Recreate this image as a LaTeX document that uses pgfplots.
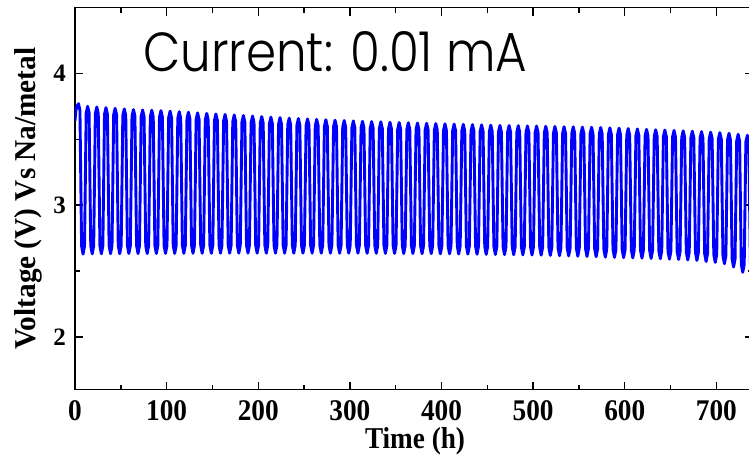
\documentclass[border=0pt]{standalone}
\usepackage{fontspec}
\setmainfont{Liberation Serif}
\newfontfamily\gothic{Poppins}[UprightFont=*-Light]
\usepackage{graphicx}
\usepackage{pgfplots}
\pgfplotsset{compat=1.18}
\begin{document}
\begin{tikzpicture}
\begin{axis}[
  scale only axis,
  width=678pt, height=382pt,
  xmin=0, xmax=740, ymin=1.6, ymax=4.5,
  xtick={0,100,...,700}, ytick={2,3,4},
  minor x tick num=1, minor y tick num=1,
  tick align=inside,
  major tick length=8pt, minor tick length=5pt,
  every tick/.style={black, line width=1.4pt},
  axis line style={line width=1.6pt},
  /pgf/number format/assume math mode=true,
  xticklabel={\scalebox{0.91}[1]{\pgfmathprintnumber{\tick}}},
  xticklabel style={font=\fontsize{30}{36}\selectfont\bfseries, anchor=base, yshift=-31pt},
  yticklabel style={font=\fontsize{25}{30}\selectfont\bfseries, anchor=east, inner sep=0pt, xshift=-9pt},
  xlabel={\resizebox{100pt}{21pt}{Time (h)}},
  xlabel style={font=\bfseries, at={(axis description cs:0.5015,0)}, anchor=base, yshift=-58.5pt},
  ylabel={\resizebox{302pt}{21pt}{Voltage (V) Vs Na/metal}},
  ylabel style={font=\bfseries, at={(axis description cs:-0.058,0.5)}, anchor=base},
]
\addplot[color={rgb,255:red,0;green,0;blue,255}, line width=2.9pt, line join=round] coordinates {
(0,3.64)(1.0,3.72)(2.2,3.75)(3.8,3.77)(5.4,3.72)(6.3,3.20)(7.2,2.688)(8.8,2.628)
(10.4,2.688)(11.3,3.19)(12.2,3.70)(13.8,3.75)(15.4,3.70)(16.3,3.19)(17.2,2.69)(18.8,2.63)
(20.4,2.69)(21.3,3.188)(22.2,3.695)(23.8,3.745)(25.4,3.695)(26.3,3.188)(27.2,2.69)(28.8,2.63)
(30.4,2.69)(31.3,3.185)(32.2,3.69)(33.8,3.74)(35.4,3.69)(36.3,3.186)(37.2,2.691)(38.8,2.631)
(40.4,2.691)(41.3,3.183)(42.2,3.685)(43.8,3.735)(45.4,3.685)(46.3,3.183)(47.2,2.691)(48.8,2.631)
(50.4,2.691)(51.3,3.181)(52.2,3.68)(53.8,3.73)(55.4,3.68)(56.3,3.181)(57.2,2.692)(58.8,2.632)
(60.4,2.692)(61.3,3.179)(62.2,3.675)(63.8,3.725)(65.4,3.675)(66.3,3.179)(67.2,2.692)(68.8,2.632)
(70.4,2.692)(71.3,3.177)(72.2,3.672)(73.8,3.722)(75.4,3.672)(76.3,3.177)(77.2,2.692)(78.8,2.632)
(80.4,2.692)(81.3,3.176)(82.2,3.67)(83.8,3.72)(85.4,3.67)(86.3,3.176)(87.2,2.693)(88.8,2.633)
(90.4,2.693)(91.3,3.175)(92.2,3.667)(93.8,3.717)(95.4,3.667)(96.3,3.175)(97.2,2.693)(98.8,2.633)
(100.4,2.693)(101.3,3.173)(102.2,3.663)(103.8,3.713)(105.4,3.663)(106.3,3.173)(107.2,2.693)(108.8,2.633)
(110.4,2.693)(111.3,3.171)(112.2,3.659)(113.8,3.709)(115.4,3.659)(116.3,3.171)(117.2,2.694)(118.8,2.634)
(120.4,2.694)(121.3,3.17)(122.2,3.655)(123.8,3.705)(125.4,3.655)(126.3,3.17)(127.2,2.694)(128.8,2.634)
(130.4,2.694)(131.3,3.167)(132.2,3.65)(133.8,3.70)(135.4,3.65)(136.3,3.167)(137.2,2.694)(138.8,2.634)
(140.4,2.694)(141.3,3.165)(142.2,3.646)(143.8,3.696)(145.4,3.646)(146.3,3.165)(147.2,2.694)(148.8,2.634)
(150.4,2.694)(151.3,3.163)(152.2,3.642)(153.8,3.692)(155.4,3.642)(156.3,3.163)(157.2,2.695)(158.8,2.635)
(160.4,2.695)(161.3,3.161)(162.2,3.638)(163.8,3.688)(165.4,3.638)(166.3,3.161)(167.2,2.695)(168.8,2.635)
(170.4,2.695)(171.3,3.159)(172.2,3.634)(173.8,3.684)(175.4,3.634)(176.3,3.159)(177.2,2.695)(178.8,2.635)
(180.4,2.695)(181.3,3.157)(182.2,3.63)(183.8,3.68)(185.4,3.63)(186.3,3.157)(187.2,2.695)(188.8,2.635)
(190.4,2.695)(191.3,3.155)(192.2,3.626)(193.8,3.676)(195.4,3.626)(196.3,3.155)(197.2,2.695)(198.8,2.635)
(200.4,2.695)(201.3,3.153)(202.2,3.622)(203.8,3.672)(205.4,3.622)(206.3,3.153)(207.2,2.695)(208.8,2.635)
(210.4,2.695)(211.3,3.151)(212.2,3.618)(213.8,3.668)(215.4,3.618)(216.3,3.151)(217.2,2.695)(218.8,2.635)
(220.4,2.695)(221.3,3.149)(222.2,3.614)(223.8,3.664)(225.4,3.614)(226.3,3.149)(227.2,2.695)(228.8,2.635)
(230.4,2.695)(231.3,3.147)(232.2,3.61)(233.8,3.66)(235.4,3.61)(236.3,3.147)(237.2,2.695)(238.8,2.635)
(240.4,2.695)(241.3,3.146)(242.2,3.607)(243.8,3.657)(245.4,3.607)(246.3,3.146)(247.2,2.695)(248.8,2.635)
(250.4,2.695)(251.3,3.144)(252.2,3.604)(253.8,3.654)(255.4,3.604)(256.3,3.144)(257.2,2.695)(258.8,2.635)
(260.4,2.695)(261.3,3.143)(262.2,3.601)(263.8,3.651)(265.4,3.601)(266.3,3.143)(267.2,2.695)(268.8,2.635)
(270.4,2.695)(271.3,3.141)(272.2,3.598)(273.8,3.648)(275.4,3.598)(276.3,3.141)(277.2,2.695)(278.8,2.635)
(280.4,2.695)(281.3,3.14)(282.2,3.595)(283.8,3.645)(285.4,3.595)(286.3,3.14)(287.2,2.695)(288.8,2.635)
(290.4,2.695)(291.3,3.138)(292.2,3.592)(293.8,3.642)(295.4,3.592)(296.3,3.138)(297.2,2.695)(298.8,2.635)
(300.4,2.695)(301.3,3.137)(302.2,3.589)(303.8,3.639)(305.4,3.589)(306.3,3.137)(307.2,2.695)(308.8,2.635)
(310.4,2.695)(311.3,3.136)(312.2,3.586)(313.8,3.636)(315.4,3.586)(316.3,3.135)(317.2,2.694)(318.8,2.634)
(320.4,2.694)(321.3,3.134)(322.2,3.584)(323.8,3.634)(325.4,3.584)(326.3,3.134)(327.2,2.694)(328.8,2.634)
(330.4,2.694)(331.3,3.133)(332.2,3.582)(333.8,3.632)(335.4,3.582)(336.3,3.133)(337.2,2.693)(338.8,2.633)
(340.4,2.693)(341.3,3.131)(342.2,3.579)(343.8,3.629)(345.4,3.579)(346.3,3.131)(347.2,2.693)(348.8,2.633)
(350.4,2.693)(351.3,3.13)(352.2,3.577)(353.8,3.627)(355.4,3.577)(356.3,3.13)(357.2,2.692)(358.8,2.632)
(360.4,2.692)(361.3,3.128)(362.2,3.575)(363.8,3.625)(365.4,3.575)(366.3,3.128)(367.2,2.692)(368.8,2.632)
(370.4,2.692)(371.3,3.127)(372.2,3.573)(373.8,3.623)(375.4,3.573)(376.3,3.127)(377.2,2.691)(378.8,2.631)
(380.4,2.691)(381.3,3.126)(382.2,3.571)(383.8,3.621)(385.4,3.571)(386.3,3.126)(387.2,2.691)(388.8,2.631)
(390.4,2.691)(391.3,3.125)(392.2,3.569)(393.8,3.619)(395.4,3.569)(396.3,3.125)(397.2,2.69)(398.8,2.63)
(400.4,2.69)(401.3,3.124)(402.2,3.567)(403.8,3.617)(405.4,3.567)(406.3,3.124)(407.2,2.69)(408.8,2.63)
(410.4,2.69)(411.3,3.122)(412.2,3.565)(413.8,3.615)(415.4,3.565)(416.3,3.122)(417.2,2.689)(418.8,2.629)
(420.4,2.689)(421.3,3.121)(422.2,3.563)(423.8,3.613)(425.4,3.563)(426.3,3.12)(427.2,2.688)(428.8,2.628)
(430.4,2.688)(431.3,3.119)(432.2,3.561)(433.8,3.611)(435.4,3.561)(436.3,3.119)(437.2,2.687)(438.8,2.627)
(440.4,2.687)(441.3,3.118)(442.2,3.559)(443.8,3.609)(445.4,3.559)(446.3,3.117)(447.2,2.686)(448.8,2.626)
(450.4,2.686)(451.3,3.116)(452.2,3.557)(453.8,3.607)(455.4,3.557)(456.3,3.116)(457.2,2.685)(458.8,2.625)
(460.4,2.685)(461.3,3.115)(462.2,3.555)(463.8,3.605)(465.4,3.555)(466.3,3.114)(467.2,2.684)(468.8,2.624)
(470.4,2.684)(471.3,3.114)(472.2,3.554)(473.8,3.604)(475.4,3.554)(476.3,3.113)(477.2,2.683)(478.8,2.623)
(480.4,2.683)(481.3,3.113)(482.2,3.553)(483.8,3.603)(485.4,3.553)(486.3,3.112)(487.2,2.682)(488.8,2.622)
(490.4,2.682)(491.3,3.111)(492.2,3.551)(493.8,3.601)(495.4,3.551)(496.3,3.111)(497.2,2.681)(498.8,2.621)
(500.4,2.681)(501.3,3.11)(502.2,3.55)(503.8,3.60)(505.4,3.55)(506.3,3.11)(507.2,2.68)(508.8,2.62)
(510.4,2.68)(511.3,3.109)(512.2,3.548)(513.8,3.598)(515.4,3.548)(516.3,3.108)(517.2,2.678)(518.8,2.618)
(520.4,2.678)(521.3,3.107)(522.2,3.547)(523.8,3.597)(525.4,3.547)(526.3,3.106)(527.2,2.676)(528.8,2.616)
(530.4,2.676)(531.3,3.105)(532.2,3.545)(533.8,3.595)(535.4,3.545)(536.3,3.104)(537.2,2.674)(538.8,2.614)
(540.4,2.674)(541.3,3.104)(542.2,3.544)(543.8,3.594)(545.4,3.544)(546.3,3.103)(547.2,2.672)(548.8,2.612)
(550.4,2.672)(551.3,3.102)(552.2,3.542)(553.8,3.592)(555.4,3.542)(556.3,3.101)(557.2,2.67)(558.8,2.61)
(560.4,2.67)(561.3,3.10)(562.2,3.541)(563.8,3.591)(565.4,3.541)(566.3,3.10)(567.2,2.668)(568.8,2.608)
(570.4,2.668)(571.3,3.099)(572.2,3.539)(573.8,3.589)(575.4,3.539)(576.3,3.097)(577.2,2.665)(578.8,2.605)
(580.4,2.665)(581.3,3.096)(582.2,3.536)(583.8,3.586)(585.4,3.536)(586.3,3.095)(587.2,2.663)(588.8,2.603)
(590.4,2.663)(591.3,3.094)(592.2,3.534)(593.8,3.584)(595.4,3.534)(596.3,3.093)(597.2,2.661)(598.8,2.601)
(600.4,2.661)(601.3,3.091)(602.2,3.531)(603.8,3.581)(605.4,3.531)(606.3,3.09)(607.2,2.659)(608.8,2.599)
(610.4,2.659)(611.3,3.089)(612.2,3.528)(613.8,3.578)(615.4,3.528)(616.3,3.088)(617.2,2.657)(618.8,2.597)
(620.4,2.657)(621.3,3.086)(622.2,3.525)(623.8,3.575)(625.4,3.525)(626.3,3.085)(627.2,2.655)(628.8,2.595)
(630.4,2.655)(631.3,3.084)(632.2,3.522)(633.8,3.572)(635.4,3.522)(636.3,3.083)(637.2,2.653)(638.8,2.593)
(640.4,2.653)(641.3,3.082)(642.2,3.52)(643.8,3.57)(645.4,3.52)(646.3,3.08)(647.2,2.65)(648.8,2.59)
(650.4,2.65)(651.3,3.079)(652.2,3.517)(653.8,3.567)(655.4,3.517)(656.3,3.077)(657.2,2.647)(658.8,2.587)
(660.4,2.647)(661.3,3.076)(662.2,3.514)(663.8,3.564)(665.4,3.514)(666.3,3.074)(667.2,2.643)(668.8,2.583)
(670.4,2.643)(671.3,3.072)(672.2,3.511)(673.8,3.561)(675.4,3.511)(676.3,3.071)(677.2,2.64)(678.8,2.58)
(680.4,2.64)(681.3,3.069)(682.2,3.508)(683.8,3.558)(685.4,3.508)(686.3,3.065)(687.2,2.632)(688.8,2.572)
(690.4,2.632)(691.3,3.063)(692.2,3.504)(693.8,3.554)(695.4,3.504)(696.3,3.06)(697.2,2.625)(698.8,2.565)
(700.4,2.625)(701.3,3.058)(702.2,3.50)(703.8,3.55)(705.4,3.50)(706.3,3.053)(707.2,2.615)(708.8,2.555)
(710.4,2.615)(711.3,3.05)(712.2,3.495)(713.8,3.545)(715.4,3.495)(716.3,3.038)(717.2,2.59)(718.8,2.53)
(720.4,2.59)(721.3,3.034)(722.2,3.487)(723.8,3.537)(725.4,3.487)(726.3,3.014)(727.2,2.55)(728.8,2.49)
(730.4,2.55)(731.3,3.01)(732.2,3.48)(733.8,3.53)(735.4,3.48)(736.3,3.0)(737.2,2.55)
};
\node[anchor=base west, inner sep=0pt] at (axis description cs:0.1003,0.8312) {\resizebox{384pt}{40pt}{\gothic Current: 0.01 mA}};
\end{axis}
\pgfresetboundingbox
\path[use as bounding box] ([xshift=-75pt,yshift=-66.5pt]current axis.south west) rectangle ++(749pt,456pt);
\end{tikzpicture}
\end{document}
